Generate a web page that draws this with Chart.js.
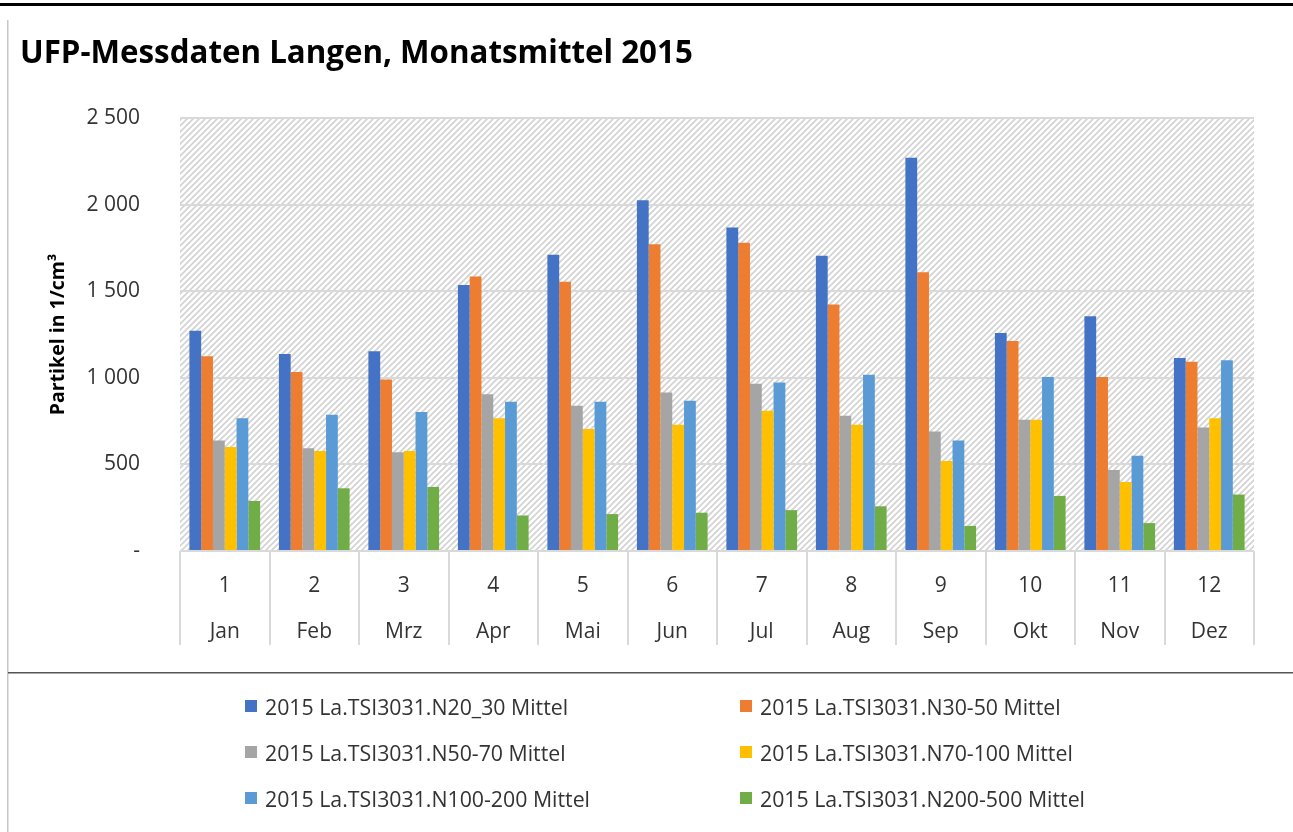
<!DOCTYPE html>
<html>
<head>
<meta charset="utf-8">
<script src="https://cdn.jsdelivr.net/npm/chart.js@4.4.1/dist/chart.umd.min.js"></script>
<style>
  body { margin: 0; background: #fff; }
  #wrap { position: relative; width: 1293px; height: 832px; }
  #chart { position: absolute; left: 0; top: 0; }
  #legend {
    position: absolute; left: 245px; top: 691px;
    display: grid; grid-template-columns: 495px 495px; row-gap: 16px;
    font: 21.3px "Open Sans", sans-serif; color: #333;
  }
  #legend .item { display: flex; align-items: center; height: 30px; white-space: nowrap; }
  #legend .box { width: 12px; height: 12px; margin-right: 8px; }
</style>
</head>
<body>
<div id="wrap">
  <canvas id="chart" width="1293" height="832"></canvas>
  <div id="legend"></div>
</div>
<script>
const monthNums = ['1', '2', '3', '4', '5', '6', '7', '8', '9', '10', '11', '12']
const monthNames = ['Jan', 'Feb', 'Mrz', 'Apr', 'Mai', 'Jun', 'Jul', 'Aug', 'Sep', 'Okt', 'Nov', 'Dez']

const n20_30 = [1271, 1138, 1153, 1535, 1711, 2025, 1868, 1705, 2271, 1258, 1355, 1114]
const n30_50 = [1124, 1033, 990, 1585, 1554, 1771, 1779, 1423, 1609, 1213, 1004, 1093]
const n50_70 = [638, 593, 570, 905, 839, 915, 965, 781, 690, 758, 467, 713]
const n70_100 = [601, 578, 578, 766, 705, 729, 810, 729, 519, 758, 399, 766]
const n100_200 = [766, 787, 802, 862, 862, 868, 973, 1017, 638, 1004, 550, 1101]
const n200_500 = [289, 362, 370, 205, 213, 221, 236, 258, 145, 318, 161, 326]

const seriesNames = [
  '2015 La.TSI3031.N20_30 Mittel',
  '2015 La.TSI3031.N30-50 Mittel',
  '2015 La.TSI3031.N50-70 Mittel',
  '2015 La.TSI3031.N70-100 Mittel',
  '2015 La.TSI3031.N100-200 Mittel',
  '2015 La.TSI3031.N200-500 Mittel'
]
const seriesColors = ['#4472C4', '#ED7D31', '#A5A5A5', '#FFC000', '#5B9BD5', '#70AD47']
const seriesValues = [n20_30, n30_50, n50_70, n70_100, n100_200, n200_500]

const yTicks = [0, 500, 1000, 1500, 2000, 2500]

const FONT = '"Open Sans", sans-serif'
const GRID = '#D9D9D9'

// diagonal hatch used behind the bars
function makeHatch() {
  const s = 6
  const c = document.createElement('canvas')
  c.width = s
  c.height = s
  const g = c.getContext('2d')
  g.strokeStyle = '#D2D2D2'
  g.lineWidth = 1.6
  g.beginPath()
  g.moveTo(0, s); g.lineTo(s, 0)
  g.moveTo(-1, 1); g.lineTo(1, -1)
  g.moveTo(s - 1, s + 1); g.lineTo(s + 1, s - 1)
  g.stroke()
  return g.createPattern(c, 'repeat')
}

const hatchPlugin = {
  id: 'hatch',
  beforeDraw(chart) {
    const { ctx, chartArea: a } = chart
    ctx.save()
    ctx.fillStyle = makeHatch()
    ctx.fillRect(a.left, a.top, a.right - a.left, a.bottom - a.top)
    ctx.restore()
  }
}

// outer frame lines and the separator above the legend
const framePlugin = {
  id: 'frame',
  afterDraw(chart) {
    const ctx = chart.ctx
    ctx.save()
    ctx.fillStyle = '#000'
    ctx.fillRect(0, 3, chart.width, 3)
    ctx.fillStyle = '#C8C8C8'
    ctx.fillRect(7, 20, 1.5, chart.height - 20)
    ctx.fillStyle = '#555'
    ctx.fillRect(8, 672, chart.width - 8, 1.5)
    ctx.restore()
  }
}

const datasets = seriesNames.map((name, i) => ({
  label: name,
  data: seriesValues[i],
  backgroundColor: seriesColors[i],
  categoryPercentage: 0.79,
  barPercentage: 1.0
}))

const chart = new Chart(document.getElementById('chart'), {
  type: 'bar',
  data: {
    labels: monthNums.map((n, i) => [n, monthNames[i]]),
    datasets: datasets
  },
  plugins: [hatchPlugin, framePlugin],
  options: {
    responsive: false,
    animation: false,
    layout: { padding: { left: 20, right: 39, top: 0, bottom: 0 } },
    plugins: {
      legend: { display: false },
      tooltip: { enabled: false },
      title: {
        display: true,
        text: 'UFP-Messdaten Langen, Monatsmittel 2015',
        align: 'start',
        color: '#000',
        font: { family: FONT, size: 31.3, weight: 'bold' },
        padding: { top: 35.5, bottom: 44.9 }
      }
    },
    scales: {
      x: {
        afterFit: s => { s.height = 281 },
        grid: {
          offset: true,
          drawOnChartArea: false,
          drawTicks: true,
          tickLength: 94,
          color: GRID,
          lineWidth: 2
        },
        border: { display: false },
        ticks: {
          color: '#333',
          padding: -82,
          maxRotation: 0,
          autoSkip: false,
          font: { family: FONT, size: 21, lineHeight: 46 / 21 }
        }
      },
      y: {
        min: 0,
        max: 2500,
        afterFit: s => { s.width = 160 },
        afterBuildTicks: s => { s.ticks = yTicks.map(v => ({ value: v })) },
        grid: { color: GRID, lineWidth: 2, drawTicks: false },
        border: { display: false },
        ticks: {
          color: '#333',
          padding: 40,
          font: { family: FONT, size: 21 },
          callback: v => v === 0 ? '-' : String(v).replace(/\B(?=(\d{3})+(?!\d))/g, ' ')
        },
        title: {
          display: true,
          text: 'Partikel in 1/cm³',
          color: '#000',
          font: { family: FONT, size: 19.5, weight: 'bold' },
          padding: { top: 27, bottom: 0 }
        }
      }
    }
  }
})

// legend in two columns, built from the chart's datasets
const legendEl = document.getElementById('legend')
chart.data.datasets.forEach(ds => {
  const item = document.createElement('div')
  item.className = 'item'
  const box = document.createElement('span')
  box.className = 'box'
  box.style.background = ds.backgroundColor
  const txt = document.createElement('span')
  txt.textContent = ds.label
  item.appendChild(box)
  item.appendChild(txt)
  legendEl.appendChild(item)
})
</script>
</body>
</html>
